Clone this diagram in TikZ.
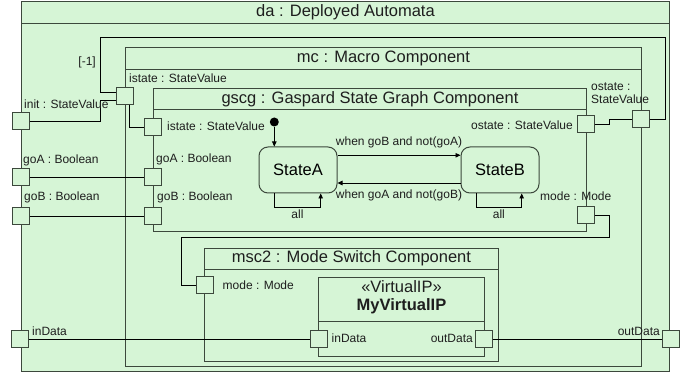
\documentclass[tikz,border=0pt]{standalone}
\usepackage{fontspec}
\setmainfont{Liberation Sans}
\usetikzlibrary{arrows.meta,calc}
\definecolor{partfill}{RGB}{214,245,214}
\definecolor{partline}{RGB}{60,72,60}
\definecolor{textc}{RGB}{30,30,30}
\begin{document}
\begin{tikzpicture}[x=1pt,y=-1pt,
  part/.style={draw=partline,fill=partfill,line width=1pt,rectangle,inner sep=0pt,anchor=north west},
  partedge/.style={draw=partline,line width=1pt},
  title/.style={font=\fontsize{16.5}{19}\selectfont,text=textc,inner sep=0pt},
  portbox/.style={draw=partline,fill=partfill,line width=1pt,rectangle,minimum size=17pt,inner sep=0pt},
  conn/.style={draw=black,line width=0.9pt},
  lbl/.style={font=\fontsize{12}{13}\selectfont,text=textc,inner sep=0pt},
  state/.style={draw=partline,fill=partfill,line width=1pt,rounded corners=9pt,minimum width=78pt,minimum height=46pt,inner sep=0pt,font=\fontsize{16.5}{19}\selectfont},
  trans/.style={draw=black,line width=0.9pt,-{Triangle[length=5pt,width=4.5pt]}},
  initdot/.style={circle,fill=black,minimum size=9pt,inner sep=0pt}
]
\useasboundingbox (0,0) rectangle (689,374);

% nested parts
\node[part,minimum width=648pt,minimum height=370pt] (da) at (21,1) {};
\draw[partedge] ([yshift=-23pt]da.north west) -- ([yshift=-23pt]da.north east);
\node[title] (daT) at ([yshift=-11.5pt]da.north) {da : Deployed Automata};

\node[part,minimum width=516pt,minimum height=319pt] (mc) at (125,47) {};
\draw[partedge] ([yshift=-23pt]mc.north west) -- ([yshift=-23pt]mc.north east);
\node[title] (mcT) at ([yshift=-11.5pt]mc.north) {mc : Macro Component};

\node[part,minimum width=433pt,minimum height=143pt] (gscg) at (153,88) {};
\draw[partedge] ([yshift=-22pt]gscg.north west) -- ([yshift=-22pt]gscg.north east);
\node[title] (gscgT) at ([yshift=-11pt]gscg.north) {gscg : Gaspard State Graph Component};

\node[part,minimum width=294pt,minimum height=113pt] (msc) at (204,248) {};
\draw[partedge] ([yshift=-22pt]msc.north west) -- ([yshift=-22pt]msc.north east);
\node[title] (mscT) at ([yshift=-10.5pt]msc.north) {msc2 : Mode Switch Component};

\node[part,minimum width=166pt,minimum height=79pt] (vip) at (318,277) {};
\draw[partedge] ([yshift=-45pt]vip.north west) -- ([yshift=-45pt]vip.north east);
\node[title] (vipS) at ([yshift=-10pt]vip.north) {«VirtualIP»};
\node[title,font=\fontsize{16.5}{19}\selectfont\bfseries] (vipN) at ([yshift=-29pt]vip.north) {MyVirtualIP};

% ports
\node[portbox] (pInit) at (20.5,121.5) {};
\node[portbox] (pGoA) at (20.5,177.5) {};
\node[portbox] (pGoB) at (20.5,216) {};
\node[portbox] (pIn) at (19.5,339) {};
\node[portbox] (pOut) at (671,339) {};
\node[portbox] (pMcIst) at (125,96.5) {};
\node[portbox] (pMcOst) at (640.5,119.5) {};
\node[portbox] (pGIst) at (153,127.5) {};
\node[portbox] (pGGoA) at (153,177.5) {};
\node[portbox] (pGGoB) at (153,216) {};
\node[portbox] (pGOst) at (585.5,124.5) {};
\node[portbox] (pGMode) at (585.5,215.5) {};
\node[portbox] (pMMode) at (204.5,285.5) {};
\node[portbox] (pVIn) at (318.5,339) {};
\node[portbox] (pVOut) at (484,339) {};

% routing points
\coordinate (kx) at (100.5,0);
\coordinate (loopNE) at (665,37.5);
\coordinate (loopNW) at (100.5,37.5);
\coordinate (oBend) at (609,0);
\coordinate (mA) at (609,237);
\coordinate (mB) at (181,237);

% connectors
\draw[conn] (pInit.east) -| ([yshift=-3.5pt]pMcIst.west -| kx) -- ([yshift=-3.5pt]pMcIst.west);
\draw[conn] (pMcOst.east) -| (loopNE) -- (loopNW) |- ([yshift=4.5pt]pMcIst.west);
\draw[conn] ([xshift=4pt]pMcIst.south) |- (pGIst.west);
\draw[conn] (pGoA.east) -- (pGGoA.west);
\draw[conn] (pGoB.east) -- (pGGoB.west);
\draw[conn] (pGOst.east) -| (oBend |- pMcOst.west) -- (pMcOst.west);
\draw[conn] (pGMode.east) -| (mA) -- (mB) |- (pMMode.west);
\draw[conn] (pIn.east) -- (pVIn.west);
\draw[conn] (pVOut.east) -- (pOut.west);
\node[lbl,anchor=east] (delay) at (96,62) {[-1]};

% port labels
\node[lbl,anchor=west] (lInit) at (24,104) {init : StateValue};
\node[lbl,anchor=west] (lGoA) at (23,160) {goA : Boolean};
\node[lbl,anchor=west] (lGoB) at (24,197) {goB : Boolean};
\node[lbl,anchor=west] (lIn) at (32,331) {inData};
\node[lbl,anchor=east] (lOut) at (660,331.5) {outData};
\node[lbl,anchor=west] (lMcIst) at (129,78) {istate : StateValue};
\node[lbl,anchor=west,align=left] (lMcOst) at (591,93) {ostate :\\StateValue};
\node[lbl,anchor=west] (lGIst) at (167,126) {istate : StateValue};
\node[lbl,anchor=west] (lGGoA) at (156,159) {goA : Boolean};
\node[lbl,anchor=west] (lGGoB) at (157,197) {goB : Boolean};
\node[lbl,anchor=east] (lGOst) at (573,125) {ostate : StateValue};
\node[lbl,anchor=west] (lGMode) at (540,196) {mode : Mode};
\node[lbl,anchor=west] (lMMode) at (222.5,285.5) {mode : Mode};
\node[lbl,anchor=west] (lVIn) at (331.5,338.5) {inData};
\node[lbl,anchor=east] (lVOut) at (473,338.5) {outData};

% state machine
\node[state] (sA) at (298,170) {StateA};
\node[state] (sB) at (500,170) {StateB};
\node[initdot] (ini) at (274.3,122) {};
\draw[trans] (ini.south) -- (ini.south |- sA.north);
\draw[trans] ([yshift=14.7pt]sA.east) -- node[lbl,above=6.5pt] (tAB) {when goB and not(goA)} ([yshift=14.7pt]sB.west);
\draw[trans] ([yshift=-13pt]sB.west) -- node[lbl,below=6pt] (tBA) {when goA and not(goB)} ([yshift=-13pt]sA.east);
\coordinate (aLoop) at (320.7,207.3);
\coordinate (bLoop) at (521.7,207.3);
\draw[trans] ([xshift=-23.7pt]sA.south) |- node[lbl,below=2pt,pos=0.75] (allA) {all} (aLoop) -- (aLoop |- sA.south);
\draw[trans] ([xshift=-24pt]sB.south) |- node[lbl,below=2pt,pos=0.75] (allB) {all} (bLoop) -- (bLoop |- sB.south);
\end{tikzpicture}
\end{document}
